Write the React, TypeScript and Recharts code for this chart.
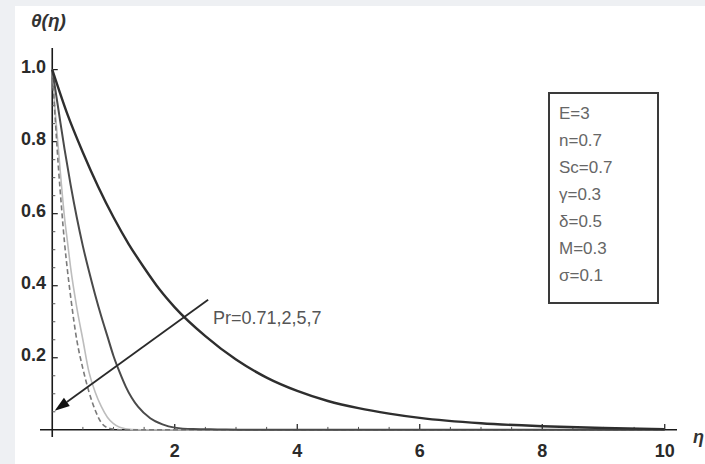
import { LineChart, Line, XAxis, YAxis, ReferenceLine } from 'recharts';

// Pr = 0.71 (thick dark curve)
const etaPr071 = [0, 0.25, 0.5, 0.75, 1, 1.25, 1.5, 1.75, 2, 2.5, 3, 3.5, 4, 4.5, 5, 5.5, 6, 7, 8, 9, 10];
const thetaPr071 = [1, 0.875, 0.77, 0.675, 0.59, 0.515, 0.45, 0.39, 0.34, 0.26, 0.195, 0.145, 0.108, 0.08, 0.06, 0.045, 0.033, 0.018, 0.01, 0.005, 0.002];

// Pr = 2
const etaPr2 = [0, 0.1, 0.2, 0.3, 0.4, 0.5, 0.6, 0.7, 0.8, 0.9, 1.0, 1.1, 1.2, 1.3, 1.4, 1.6, 1.8, 2.0, 2.3, 2.7, 3.2, 10];
const thetaPr2 = [1, 0.89, 0.78, 0.68, 0.59, 0.51, 0.44, 0.375, 0.315, 0.26, 0.205, 0.16, 0.12, 0.088, 0.064, 0.032, 0.015, 0.006, 0.002, 0.001, 0, 0];

// Pr = 5 (light grey)
const etaPr5 = [0, 0.05, 0.1, 0.15, 0.2, 0.25, 0.3, 0.4, 0.5, 0.6, 0.7, 0.8, 0.9, 1.0, 1.1, 1.3, 1.6, 10];
const thetaPr5 = [1, 0.88, 0.78, 0.68, 0.59, 0.52, 0.45, 0.34, 0.25, 0.16, 0.105, 0.065, 0.035, 0.017, 0.007, 0.001, 0, 0];

// Pr = 7 (dashed)
const etaPr7 = [0, 0.05, 0.1, 0.15, 0.2, 0.25, 0.3, 0.4, 0.5, 0.6, 0.7, 0.8, 0.9, 1.0, 1.2, 10];
const thetaPr7 = [1, 0.86, 0.73, 0.62, 0.52, 0.44, 0.37, 0.25, 0.17, 0.105, 0.055, 0.02, 0.006, 0.002, 0, 0];

const xTicks = [2, 4, 6, 8, 10];
const yTicks = [0.2, 0.4, 0.6, 0.8, 1.0];
const xMinorTicks = [0.5, 1, 1.5, 2.5, 3, 3.5, 4.5, 5, 5.5, 6.5, 7, 7.5, 8.5, 9, 9.5];
const yMinorTicks = [0.05, 0.1, 0.15, 0.25, 0.3, 0.35, 0.45, 0.5, 0.55, 0.65, 0.7, 0.75, 0.85, 0.9, 0.95];

// arrow through the curves, from label to origin
const arrowFrom = { x: 2.545, y: 0.361 };
const arrowTo = { x: 0.04, y: 0.053 };

const paramLines = ['E=3', 'n=0.7', 'Sc=0.7', 'γ=0.3', 'δ=0.5', 'M=0.3', 'σ=0.1'];

const toPoints = (xs: number[], ys: number[]) => xs.map((x, i) => ({ eta: x, theta: ys[i] }));

const font = '"Liberation Sans", Arial, sans-serif';

const renderXTick = (props: any) => {
    const { x, y, payload } = props;
    return (
        <text x={x} y={y + 20} textAnchor="middle" fontFamily={font} fontWeight="bold" fontSize={18} fill="#2a2a2a">
            {payload.value}
        </text>
    );
};

const renderYTick = (props: any) => {
    const { x, y, payload } = props;
    return (
        <text x={x + 6} y={y + 3} textAnchor="end" fontFamily={font} fontWeight="bold" fontSize={18} fill="#2a2a2a">
            {Number(payload.value).toFixed(1)}
        </text>
    );
};

function Arrow(props: any) {
    const { x1, y1, x2, y2 } = props;
    const ang = Math.atan2(y2 - y1, x2 - x1);
    const len = 15;
    const half = 5;
    const bx = x2 - len * Math.cos(ang);
    const by = y2 - len * Math.sin(ang);
    const px = -Math.sin(ang) * half;
    const py = Math.cos(ang) * half;
    return (
        <g>
            <line x1={x1} y1={y1} x2={bx} y2={by} stroke="#2a2a2a" strokeWidth={1.8} />
            <polygon points={`${x2},${y2} ${bx + px},${by + py} ${bx - px},${by - py}`} fill="#111" />
        </g>
    );
}

export default function App() {
    return (
        <div style={{ position: 'absolute', left: 0, top: 0, width: 705, height: 464, background: '#eef0f3', overflow: 'hidden' }}>
            <div style={{ position: 'absolute', left: 15, top: 6, right: 0, bottom: 0, background: '#ffffff' }} />
            <div style={{ position: 'absolute', left: 0, top: 0 }}>
                <LineChart width={705} height={464} margin={{ top: 48, right: 28, bottom: 26, left: 39 }}>
                    <XAxis
                        type="number"
                        dataKey="eta"
                        domain={[-0.2, 10.2]}
                        ticks={xTicks}
                        height={1}
                        axisLine={false}
                        tickLine={false}
                        tickSize={0}
                        tickMargin={0}
                        tick={renderXTick}
                        interval={0}
                        allowDataOverflow
                    />
                    <YAxis
                        type="number"
                        dataKey="theta"
                        domain={[-0.02, 1.06]}
                        ticks={yTicks}
                        width={1}
                        axisLine={false}
                        tickLine={false}
                        tickSize={0}
                        tickMargin={0}
                        tick={renderYTick}
                        interval={0}
                        allowDataOverflow
                    />
                    <ReferenceLine y={0} stroke="#1a1a1a" strokeWidth={1.6} />
                    <ReferenceLine x={0} stroke="#1a1a1a" strokeWidth={1.6} />
                    {xTicks.map((v) => (
                        <ReferenceLine key={'xt' + v} segment={[{ x: v, y: 0 }, { x: v, y: 0.016 }]} stroke="#1a1a1a" strokeWidth={1.2} />
                    ))}
                    {xMinorTicks.map((v) => (
                        <ReferenceLine key={'xm' + v} segment={[{ x: v, y: 0 }, { x: v, y: 0.008 }]} stroke="#555" strokeWidth={1} />
                    ))}
                    {yTicks.map((v) => (
                        <ReferenceLine key={'yt' + v} segment={[{ x: 0, y: v }, { x: 0.09, y: v }]} stroke="#1a1a1a" strokeWidth={1.2} />
                    ))}
                    {yMinorTicks.map((v) => (
                        <ReferenceLine key={'ym' + v} segment={[{ x: 0, y: v }, { x: 0.05, y: v }]} stroke="#555" strokeWidth={1} />
                    ))}
                    <Line data={toPoints(etaPr5, thetaPr5)} dataKey="theta" type="monotone" stroke="#bdbdbd" strokeWidth={1.6} dot={false} isAnimationActive={false} />
                    <Line data={toPoints(etaPr7, thetaPr7)} dataKey="theta" type="monotone" stroke="#7a7a7a" strokeWidth={1.6} strokeDasharray="5 3" dot={false} isAnimationActive={false} />
                    <Line data={toPoints(etaPr2, thetaPr2)} dataKey="theta" type="monotone" stroke="#4a4a4a" strokeWidth={2} dot={false} isAnimationActive={false} />
                    <Line data={toPoints(etaPr071, thetaPr071)} dataKey="theta" type="monotone" stroke="#2e2e2e" strokeWidth={2.4} dot={false} isAnimationActive={false} />
                    <ReferenceLine segment={[arrowFrom, arrowTo]} shape={<Arrow />} />
                </LineChart>
            </div>
            <div style={{ position: 'absolute', left: 31, top: 11, fontFamily: font, fontStyle: 'italic', fontWeight: 'bold', fontSize: 19, color: '#333', lineHeight: 1 }}>
                θ(η)
            </div>
            <div style={{ position: 'absolute', left: 693, top: 428, fontFamily: font, fontStyle: 'italic', fontWeight: 'bold', fontSize: 18, color: '#333', lineHeight: 1 }}>
                η
            </div>
            <div style={{ position: 'absolute', left: 213, top: 309, fontFamily: font, fontSize: 18, color: '#555', lineHeight: 1 }}>
                Pr=0.71,2,5,7
            </div>
            <div
                style={{
                    position: 'absolute',
                    left: 548,
                    top: 92,
                    width: 98,
                    height: 197,
                    border: '2px solid #3a3a3a',
                    fontFamily: font,
                    fontSize: 17,
                    color: '#666',
                    paddingTop: 11,
                    paddingLeft: 9,
                    boxSizing: 'content-box',
                }}
            >
                {paramLines.map((t) => (
                    <div key={t} style={{ height: 27, lineHeight: '18px' }}>
                        {t}
                    </div>
                ))}
            </div>
        </div>
    );
}
